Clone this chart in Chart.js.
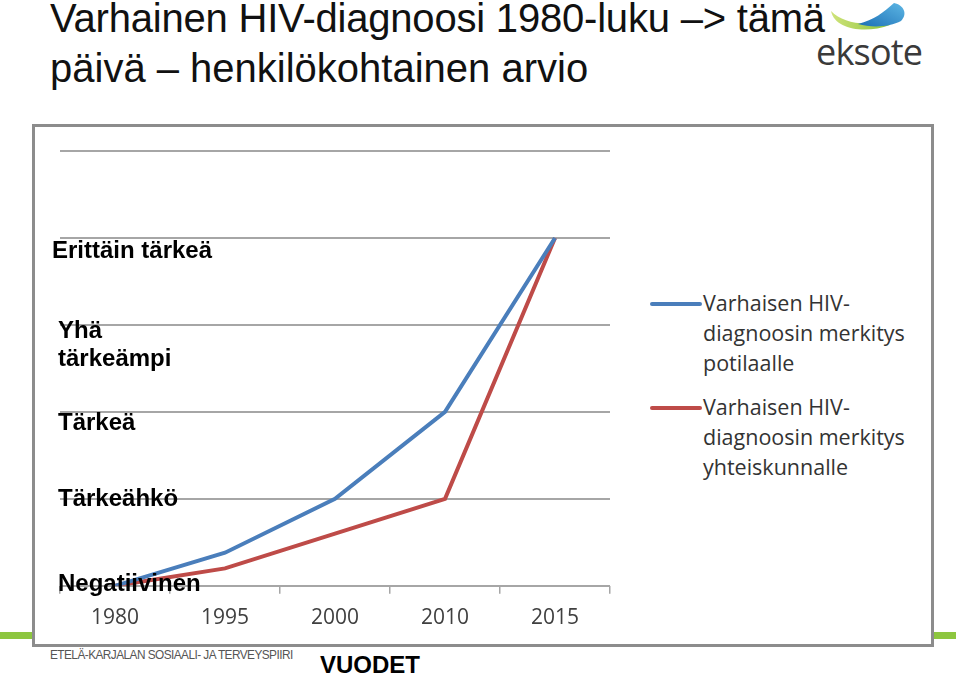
<!DOCTYPE html>
<html>
<head>
<meta charset="utf-8">
<script src="https://cdn.jsdelivr.net/npm/chart.js@4"></script>
<style>
  body { margin: 0; width: 960px; height: 675px; background: #fff; position: relative; overflow: hidden; font-family: "Liberation Sans", Arial, sans-serif; }
  .title { position: absolute; left: 50px; top: -7px; font-size: 40px; line-height: 50px; color: #111; white-space: nowrap; }
  .title .l1 { letter-spacing: -0.2px; }
  .greenbar { position: absolute; left: 0; top: 632px; width: 956px; height: 7px; background: #8dc63f; }
  .box { position: absolute; left: 32px; top: 124px; width: 896px; height: 517px; border: 3px solid #8c8c8c; background: #fff; }
  canvas { position: absolute; left: 35px; top: 127px; }
  .ylab { position: absolute; font-weight: bold; font-size: 24px; line-height: 28px; color: #000; }
  .legend { position: absolute; left: 650px; font-family: "Open Sans", sans-serif; font-size: 21.5px; line-height: 30px; color: #333; }
  .legend .item { position: relative; padding-left: 53px; margin-bottom: 14px; }
  .legend .swatch { position: absolute; left: 0; top: 14px; width: 52px; height: 4px; border-radius: 2px; }
  .footer { position: absolute; left: 50px; top: 647px; font-size: 13px; color: #555; letter-spacing: -0.6px; transform: scaleX(0.91); transform-origin: left top; white-space: nowrap; }
  .vuodet { position: absolute; left: 320px; top: 651px; font-size: 24px; font-weight: bold; color: #000; }
  .logo { position: absolute; left: 808px; top: 0; width: 122px; height: 74px; }
  .logo span { position: absolute; left: 8px; top: 27px; font-family: "Open Sans", sans-serif; font-size: 36px; color: #3a3a3a; letter-spacing: -0.8px; }
</style>
</head>
<body>
<div class="title"><span class="l1">Varhainen HIV-diagnoosi 1980-luku –&gt; tämä</span><br>päivä – henkilökohtainen arvio</div>
<div class="logo">
  <svg width="122" height="32" style="position:absolute;left:0;top:0">
    <defs>
      <linearGradient id="gb" x1="0" x2="1" y1="1" y2="0"><stop offset="0" stop-color="#1b6fb5"/><stop offset="1" stop-color="#5db6e4"/></linearGradient>
      <linearGradient id="gg" x1="0" x2="1"><stop offset="0" stop-color="#cfe37a"/><stop offset="1" stop-color="#8cc43a"/></linearGradient>
    </defs>
    <path d="M23,11 C27,30 58,34 82,25 L74,22 C52,26 34,22 23,11 Z" fill="url(#gg)"/>
    <path d="M50,24 C66,20 76,12 86,3 C96,5 100,14 93,21 C82,27 64,28 50,24 Z" fill="url(#gb)"/>
  </svg>
  <span>eksote</span>
</div>
<div class="greenbar"></div>
<div class="box"></div>
<canvas id="hivChart" width="610" height="516"></canvas>

<div class="ylab" style="left:52px;top:236px">Erittäin tärkeä</div>
<div class="ylab" style="left:58px;top:316px">Yhä<br>tärkeämpi</div>
<div class="ylab" style="left:58px;top:408px">Tärkeä</div>
<div class="ylab" style="left:58px;top:484px">Tärkeähkö</div>
<div class="ylab" style="left:58px;top:569px">Negatiivinen</div>

<div class="legend" id="legend" style="top:288px"></div>

<div class="footer">ETELÄ-KARJALAN SOSIAALI- JA TERVEYSPIIRI</div>
<div class="vuodet">VUODET</div>

<script>
const years = ['1980', '1995', '2000', '2010', '2015'];
const potilaalle = [0, 0.38, 1, 2, 4];
const yhteiskunnalle = [0, 0.2, 0.6, 1, 4];
const seriesNames = [
  'Varhaisen HIV-diagnoosin merkitys potilaalle',
  'Varhaisen HIV-diagnoosin merkitys yhteiskunnalle'
];
const legendLines = [
  ['Varhaisen HIV-', 'diagnoosin merkitys', 'potilaalle'],
  ['Varhaisen HIV-', 'diagnoosin merkitys', 'yhteiskunnalle']
];
const colors = ['#4a7ebb', '#be4b48'];

const ctx = document.getElementById('hivChart').getContext('2d');
const chart = new Chart(ctx, {
  type: 'line',
  data: {
    labels: years,
    datasets: [
      { label: seriesNames[0], data: potilaalle, borderColor: colors[0], borderWidth: 4, pointRadius: 0, tension: 0 },
      { label: seriesNames[1], data: yhteiskunnalle, borderColor: colors[1], borderWidth: 4, pointRadius: 0, tension: 0 }
    ]
  },
  options: {
    responsive: false,
    animation: false,
    layout: { padding: { left: 25, top: 24, right: 35, bottom: 0 } },
    plugins: { legend: { display: false }, tooltip: { enabled: false } },
    scales: {
      x: {
        offset: true,
        grid: { offset: true, drawOnChartArea: false, tickLength: 8, color: '#a6a6a6', lineWidth: 1.5 },
        border: { display: false },
        ticks: { font: { family: 'Open Sans', size: 21 }, color: '#404040', padding: 12 }
      },
      y: {
        min: 0, max: 5,
        ticks: { stepSize: 1, display: false },
        grid: { drawTicks: false, color: '#a6a6a6', lineWidth: 2 },
        border: { display: false }
      }
    }
  }
});

// legend
const legend = document.getElementById('legend');
chart.data.datasets.forEach((ds, i) => {
  const item = document.createElement('div');
  item.className = 'item';
  item.innerHTML = `<div class="swatch" style="background:${ds.borderColor}"></div>` + legendLines[i].join('<br>');
  legend.appendChild(item);
});
</script>
</body>
</html>
